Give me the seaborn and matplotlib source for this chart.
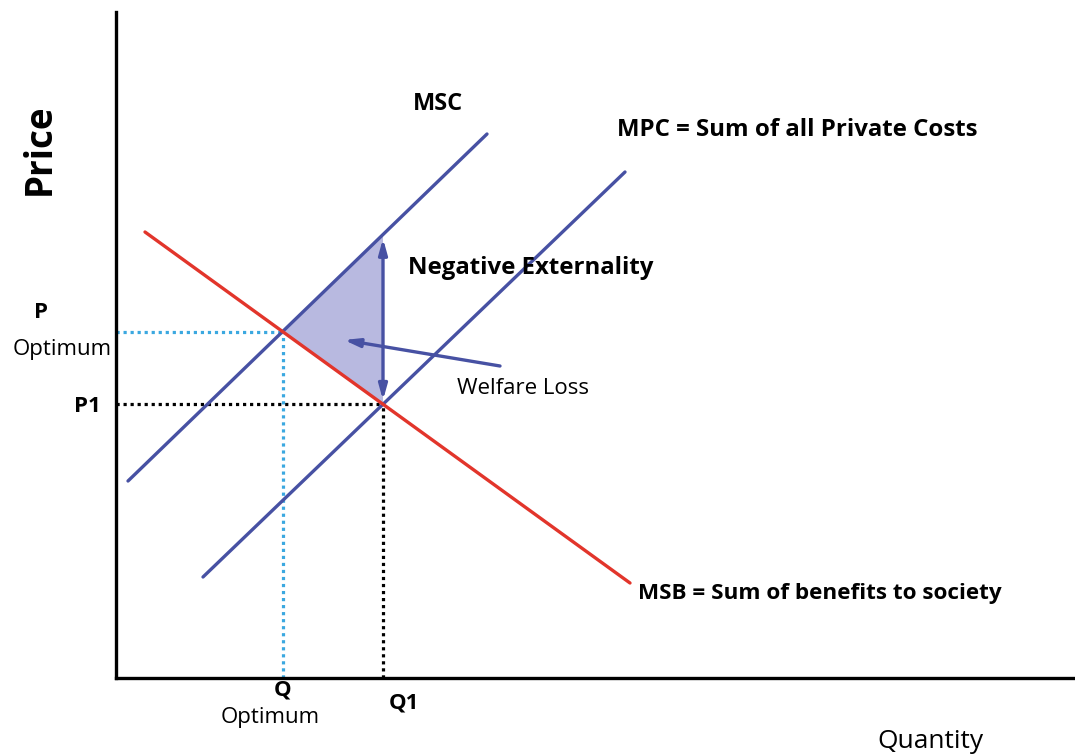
import numpy as np
import pandas as pd
import matplotlib
matplotlib.use("Agg")
import matplotlib.pyplot as plt
import seaborn as sns

# Curve endpoints (quantity, price) in chart units
msc_q = [12, 371]
msc_p = [197, 544]
mpc_q = [87, 509]
mpc_p = [101, 506]
msb_q = [29, 514]
msb_p = [446, 95]

curve_names = ["MSC", "MPC", "MSB"]
curve_colors = {"MSC": "#4751a3", "MPC": "#4751a3", "MSB": "#e2352b"}

BLUE = "#4751a3"
LIGHT_BLUE = "#3ba8e0"
FILL = "#b8b9e0"

sns.set_style("white")
plt.rcParams["font.family"] = ["Open Sans", "DejaVu Sans"]
plt.rcParams["text.color"] = "black"


def line_coef(q, p):
    slope = (p[1] - p[0]) / (q[1] - q[0])
    return slope, p[0] - slope * q[0]


def intersect(a, b):
    m1, c1 = a
    m2, c2 = b
    x = (c2 - c1) / (m1 - m2)
    return x, m1 * x + c1


msc = line_coef(msc_q, msc_p)
mpc = line_coef(mpc_q, mpc_p)
msb = line_coef(msb_q, msb_p)

q_opt, p_opt = intersect(msc, msb)
q1, p1 = intersect(mpc, msb)
msc_at_q1 = msc[0] * q1 + msc[1]

df = pd.DataFrame({
    "Quantity": msc_q + mpc_q + msb_q,
    "Price": msc_p + mpc_p + msb_p,
    "Curve": ["MSC"] * 2 + ["MPC"] * 2 + ["MSB"] * 2,
})

fig = plt.figure(figsize=(10.75, 7.56), dpi=100)
ax = fig.add_axes([116 / 1075, 78 / 756, 959 / 1075, 666 / 756])
ax.set_xlim(0, 959)
ax.set_ylim(0, 666)

# welfare loss triangle
ax.fill([q_opt, q1, q1], [p_opt, msc_at_q1, p1], color=FILL, lw=0, zorder=1)

# dotted guides
ax.plot([0, q_opt], [p_opt, p_opt], ls=(0, (1, 1.2)), color=LIGHT_BLUE, lw=2.3, zorder=2)
ax.plot([q_opt, q_opt], [0, p_opt], ls=(0, (1, 1.2)), color=LIGHT_BLUE, lw=2.3, zorder=2)
ax.plot([0, q1], [p1, p1], ls=(0, (1, 1.2)), color="black", lw=2.3, zorder=2)
ax.plot([q1, q1], [0, p1], ls=(0, (1, 1.2)), color="black", lw=2.3, zorder=2)

sns.lineplot(data=df, x="Quantity", y="Price", hue="Curve", palette=curve_colors,
             hue_order=curve_names, lw=2.4, legend=False, ax=ax, sort=False,
             estimator=None, units="Curve", zorder=3)

# negative externality arrow
ax.annotate("", xy=(q1, msc_at_q1 - 4), xytext=(q1, p1 + 4),
            arrowprops=dict(arrowstyle="<|-|>,head_length=0.9,head_width=0.25",
                            color=BLUE, lw=2.4, shrinkA=0, shrinkB=0), zorder=4)
# welfare loss pointer
ax.annotate("", xy=(228, 338), xytext=(384, 312),
            arrowprops=dict(arrowstyle="-|>,head_length=0.9,head_width=0.25",
                            color=BLUE, lw=2.4, shrinkA=0, shrinkB=0), zorder=4)

sns.despine(ax=ax)
for s in ["left", "bottom"]:
    ax.spines[s].set_linewidth(2.4)
    ax.spines[s].set_color("black")
ax.set_xticks([])
ax.set_yticks([])
ax.set_xlabel("")
ax.set_ylabel("")

kw = dict(clip_on=False, va="center")
ax.text(-76, 529, "Price", rotation=90, ha="center", fontsize=26.5, fontweight="bold", **kw)
ax.text(814, -63, "Quantity", ha="center", fontsize=19, **kw)
ax.text(322, 574, "MSC", ha="center", fontsize=17, fontweight="bold", **kw)
ax.text(501, 548, "MPC = Sum of all Private Costs", ha="left", fontsize=17.3, fontweight="bold", **kw)
ax.text(292, 410, "Negative Externality", ha="left", fontsize=17.3, fontweight="bold", **kw)
ax.text(341, 290, "Welfare Loss", ha="left", fontsize=16, **kw)
ax.text(522, 85, "MSB = Sum of benefits to society", ha="left", fontsize=16.2, fontweight="bold", **kw)
ax.text(-75, 365, "P", ha="center", fontsize=16, fontweight="bold", **kw)
ax.text(-54, 329, "Optimum", ha="center", fontsize=16, **kw)
ax.text(-29, 271, "P1", ha="center", fontsize=16, fontweight="bold", **kw)
ax.text(q_opt, -12, "Q", ha="center", fontsize=16, fontweight="bold", **kw)
ax.text(154, -39, "Optimum", ha="center", fontsize=16, **kw)
ax.text(288, -25, "Q1", ha="center", fontsize=16, fontweight="bold", **kw)

fig.savefig("out.png", dpi=100, facecolor="white")
